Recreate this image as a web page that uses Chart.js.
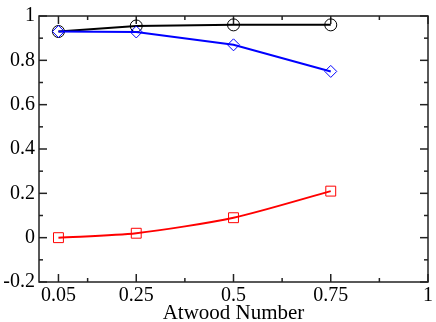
<!DOCTYPE html>
<html>
<head>
<meta charset="utf-8">
<script src="https://cdn.jsdelivr.net/npm/chart.js@4.4.0/dist/chart.umd.min.js"></script>
<style>
  html, body { margin: 0; padding: 0; background: #fff; }
  #wrap { width: 436px; height: 322px; }
</style>
</head>
<body>
<div id="wrap"><canvas id="c"></canvas></div>
<script>
// valores
const atwood = [0.05, 0.25, 0.5, 0.75];
const serieNegra = [0.93, 0.955, 0.96, 0.96];
const serieAzul = [0.93, 0.928, 0.87, 0.75];
const serieRoja = [0.0, 0.02, 0.09, 0.21];
const xTicks = [0.05, 0.25, 0.5, 0.75, 1];
const xMinor = [0.125, 0.375, 0.625, 0.875];
const yMinor = [-0.1, 0.1, 0.3, 0.5, 0.7, 0.9];

const pts = arr => atwood.map((x, i) => ({ x: x, y: arr[i] }));

// marco con marcas hacia dentro en los cuatro lados
const frameTicks = {
    id: 'frameTicks',
    beforeDatasetsDraw(chart) {
        const { ctx, chartArea: a, scales } = chart;
        const xs = scales.x, ys = scales.y;
        ctx.save();
        ctx.strokeStyle = '#222';
        ctx.lineWidth = 1.5;
        ctx.strokeRect(a.left, a.top, a.right - a.left, a.bottom - a.top);
        const tick = (x1, y1, x2, y2) => { ctx.beginPath(); ctx.moveTo(x1, y1); ctx.lineTo(x2, y2); ctx.stroke(); };
        xTicks.concat(xMinor).forEach(v => {
            const px = xs.getPixelForValue(v);
            const len = xMinor.includes(v) ? 4 : 8;
            tick(px, a.bottom, px, a.bottom - len);
            tick(px, a.top, px, a.top + len);
        });
        ys.ticks.map(t => t.value).concat(yMinor).forEach(v => {
            const py = ys.getPixelForValue(v);
            const len = yMinor.includes(v) ? 4 : 8;
            tick(a.left, py, a.left + len, py);
            tick(a.right, py, a.right - len, py);
        });
        ctx.restore();
    }
};

const fuente = { family: 'Liberation Serif', size: 20 };

new Chart(document.getElementById('c'), {
    type: 'line',
    data: {
        datasets: [
            {
                data: pts(serieNegra),
                order: 3,
                borderColor: '#000',
                borderWidth: 2,
                pointStyle: 'circle',
                pointRadius: 6,
                pointBorderWidth: 1,
                pointBorderColor: '#000',
                pointBackgroundColor: 'rgba(0,0,0,0)',
                tension: 0
            },
            {
                data: pts(serieAzul),
                order: 2,
                borderColor: '#0000ff',
                borderWidth: 2,
                pointStyle: 'rectRot',
                pointRadius: 6,
                pointBorderWidth: 1,
                pointBorderColor: '#0000ff',
                pointBackgroundColor: 'rgba(0,0,0,0)',
                tension: 0
            },
            {
                data: pts(serieRoja),
                order: 1,
                borderColor: '#ff0000',
                borderWidth: 2,
                pointStyle: 'rect',
                pointRadius: 7,
                pointBorderWidth: 1,
                pointBorderColor: '#ff0000',
                pointBackgroundColor: 'rgba(0,0,0,0)',
                tension: 0.25
            }
        ]
    },
    options: {
        responsive: true,
        maintainAspectRatio: false,
        animation: false,
        layout: { padding: { left: 0, right: 6, top: 7, bottom: 0 } },
        plugins: { legend: { display: false }, tooltip: { enabled: false } },
        scales: {
            x: {
                type: 'linear',
                min: 0, max: 1,
                grid: { display: false, drawTicks: false },
                border: { display: false },
                afterBuildTicks: s => { s.ticks = xTicks.map(v => ({ value: v })); },
                afterFit: s => { s.height = 40; },
                ticks: {
                    color: '#000', font: fuente, padding: 2, maxRotation: 0, autoSkip: false,
                    callback: v => String(v)
                },
                title: {
                    display: true, text: 'Atwood Number', color: '#000',
                    font: { family: 'Liberation Serif', size: 21, lineHeight: 1 },
                    padding: { top: 0, bottom: -2 }
                }
            },
            y: {
                min: -0.2, max: 1,
                grid: { display: false, drawTicks: false },
                border: { display: false },
                afterFit: s => { s.width = 39; },
                ticks: {
                    stepSize: 0.2, color: '#000', font: fuente, padding: 4,
                    callback: v => String(Math.round(v * 10) / 10)
                }
            }
        }
    },
    plugins: [frameTicks]
});
</script>
</body>
</html>
